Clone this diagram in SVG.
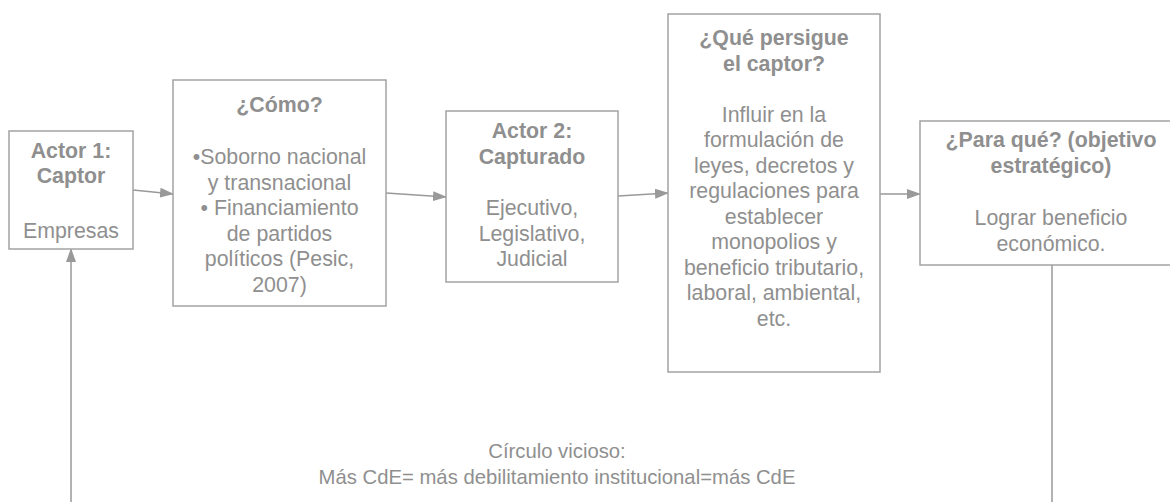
<svg xmlns="http://www.w3.org/2000/svg" width="1170" height="502" viewBox="0 0 1170 502">
<defs>
<marker id="ah" markerWidth="14" markerHeight="10" refX="13" refY="5" orient="auto" markerUnits="userSpaceOnUse">
<path d="M0,0 L14,5 L0,10 Z" fill="#999999"/>
</marker>
<style>
.box{fill:#ffffff;stroke:#a3a3a3;stroke-width:1.5}
.t{font-family:"Liberation Sans",Arial,sans-serif;font-size:21.33px;fill:#8f8f8f;text-anchor:middle}
.b{font-weight:bold}
.c{stroke:#999999;stroke-width:1.5;fill:none}
.note{font-family:"Liberation Sans",Arial,sans-serif;font-size:20.3px;fill:#8f8f8f;text-anchor:middle}
</style>
</defs>
<rect width="1170" height="502" fill="#ffffff"/>
<g id="connectors">
<line class="c" x1="133" y1="190" x2="173" y2="194" marker-end="url(#ah)"/>
<line class="c" x1="386" y1="193" x2="446" y2="197" marker-end="url(#ah)"/>
<line class="c" x1="618" y1="196" x2="668" y2="193" marker-end="url(#ah)"/>
<line class="c" x1="880" y1="194" x2="920" y2="194" marker-end="url(#ah)"/>
<line class="c" x1="1052" y1="265" x2="1052" y2="502"/>
<line class="c" x1="71" y1="502" x2="71" y2="249" marker-end="url(#ah)"/>
</g>
<g id="actor1">
<rect class="box" x="9" y="131" width="124" height="118"/>
<text class="t b" x="71" y="158">Actor 1:</text>
<text class="t b" x="71" y="183">Captor</text>
<text class="t" x="71" y="238">Empresas</text>
</g>
<g id="como">
<rect class="box" x="173" y="80" width="213" height="226"/>
<text class="t b" x="279.5" y="112">¿Cómo?</text>
<text class="t" x="279.5" y="164">•Soborno nacional</text>
<text class="t" x="279.5" y="189.5">y transnacional</text>
<text class="t" x="279.5" y="215">• Financiamiento</text>
<text class="t" x="279.5" y="240.5">de partidos</text>
<text class="t" x="279.5" y="266">políticos (Pesic,</text>
<text class="t" x="279.5" y="291.5">2007)</text>
</g>
<g id="actor2">
<rect class="box" x="446" y="111" width="172" height="171"/>
<text class="t b" x="532" y="138">Actor 2:</text>
<text class="t b" x="532" y="163.5">Capturado</text>
<text class="t" x="532" y="215">Ejecutivo,</text>
<text class="t" x="532" y="240.5">Legislativo,</text>
<text class="t" x="532" y="266">Judicial</text>
</g>
<g id="persigue">
<rect class="box" x="668" y="14" width="212" height="358"/>
<text class="t b" x="774" y="45">¿Qué persigue</text>
<text class="t b" x="774" y="70.5">el captor?</text>
<text class="t" x="774" y="121.5">Influir en la</text>
<text class="t" x="774" y="147">formulación de</text>
<text class="t" x="774" y="172.5">leyes, decretos y</text>
<text class="t" x="774" y="198">regulaciones para</text>
<text class="t" x="774" y="223.5">establecer</text>
<text class="t" x="774" y="249">monopolios y</text>
<text class="t" x="774" y="274.5">beneficio tributario,</text>
<text class="t" x="774" y="300">laboral, ambiental,</text>
<text class="t" x="774" y="325.5">etc.</text>
</g>
<g id="paraque">
<rect class="box" x="920" y="121" width="262" height="144"/>
<text class="t b" x="1051" y="147">¿Para qué? (objetivo</text>
<text class="t b" x="1051" y="172.5">estratégico)</text>
<text class="t" x="1051" y="225">Lograr beneficio</text>
<text class="t" x="1051" y="250.5">económico.</text>
</g>
<g id="circulo">
<text class="note" x="557" y="458">Círculo vicioso:</text>
<text class="note" x="557" y="484">Más CdE= más debilitamiento institucional=más CdE</text>
</g>
</svg>
